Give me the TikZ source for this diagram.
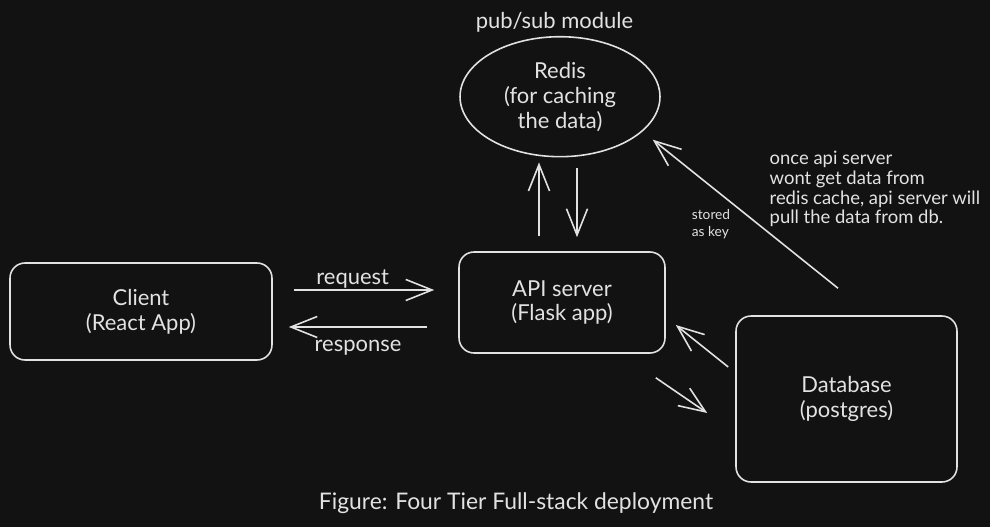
\documentclass[tikz,border=0pt]{standalone}
\usepackage{fontspec}
\setmainfont{Lato}
\usetikzlibrary{arrows.meta,shapes.geometric}
\definecolor{bgc}{HTML}{121212}
\definecolor{ink}{HTML}{E2E2E2}

\begin{document}
\begin{tikzpicture}[x=0.02cm,y=-0.02cm,line width=0.9pt,
  box/.style={draw=ink,rounded corners=0.3cm,align=center,font=\fontsize{12.5}{14.2}\selectfont},
  arr/.style={draw=ink,-{Straight Barb[length=15pt,width=12pt]}}]
\tikzstyle{every node}+=[text=ink]
\fill [bgc] (0,0) rectangle (990,527);
\useasboundingbox (0,0) rectangle (990,527);
% the four tiers
\node [box,minimum width=5.24cm,minimum height=1.94cm] (client) at (141,311.5) {Client\\(React App)};
\node [box,minimum width=4.12cm,minimum height=2.02cm] (api) at (562,302.5) {API server\\(Flask app)};
\node [box,minimum width=4.42cm,minimum height=3.32cm] (db) at (846.5,399) {Database\\(postgres)};
\node [box,ellipse,rounded corners=0pt,minimum width=4cm,minimum height=2.4cm,inner sep=0pt] (redis) at (560,96.7) {Redis\\(for caching\\the data)};
\node [font=\fontsize{12.5}{14}\selectfont] (pubsub) at (554.5,22) {pub/sub module};
% client <-> api
\draw [arr] ([shift={(21,-21.5)}]client.east) -- ([shift={(-24,-12.5)}]api.west)
  node [pos=0.42,above=-3pt,font=\fontsize{12.5}{14}\selectfont] (reqlbl) {request};
\draw [arr] ([shift={(-31,24.5)}]api.west) -- ([shift={(16,15.5)}]client.east)
  node [midway,below=4pt,font=\fontsize{12.5}{14}\selectfont] (reslbl) {response};
% api <-> redis
\draw [arr] ([shift={(-23,-15)}]api.north) -- ([shift={(-21,5)}]redis.south);
\draw [arr] ([shift={(17,11)}]redis.south) -- ([shift={(15,-14)}]api.north);
% api <-> db
\draw [arr] ([shift={(-7,-32)}]db.west) -- ([shift={(10,22.5)}]api.east);
\draw [arr] ([shift={(-10,24)}]api.south east) -- ([shift={(-28,14)}]db.west);
% db -> redis
\draw [arr] ([shift={(-8.5,-27)}]db.north) -- ([shift={(-8,43)}]redis.east);
\node [align=left,font=\fontsize{7.8}{9.6}\selectfont] (keylbl) at (711,224) {stored\\as key};
\node [anchor=west,align=left,font=\fontsize{10.5}{11.3}\selectfont] (note) at (763,189)
  {once api server\\wont get data from\\redis cache, api server will\\pull the data from db.};
\node [font=\fontsize{13}{15}\selectfont] (caption) at (516,503) {Figure: Four Tier Full-stack deployment};
\end{tikzpicture}
\end{document}
